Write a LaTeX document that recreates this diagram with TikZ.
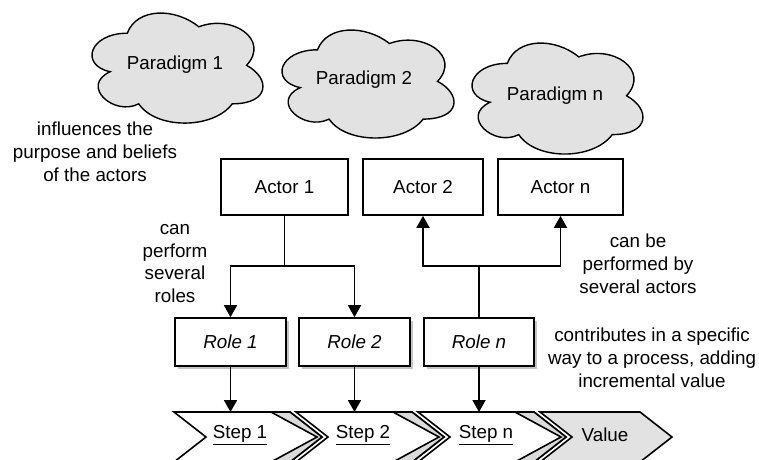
\documentclass[tikz,border=0pt]{standalone}
\usepackage{fontspec}
\setmainfont{Liberation Sans}
\usetikzlibrary{arrows.meta,shadows}
\definecolor{cloudgray}{HTML}{E2E2E2}
\definecolor{bevelgray}{HTML}{DADADA}
\definecolor{shadowgray}{HTML}{C4C4C4}
\newcommand\basefont{\fontsize{18.8}{22.8}\selectfont}
% cloud outline in a w x h frame whose top left corner is (x0,y0)
\newcommand\paradigmcloud[4]{%
  \begin{scope}[shift={(#1,#2)}, x=#3pt, y=-#4pt]
    \filldraw[cloudline] (0.25,0.25)
      .. controls (0.05,0.25) and (0,0.5) .. (0.16,0.55)
      .. controls (0,0.66) and (0.18,0.9) .. (0.31,0.8)
      .. controls (0.4,1) and (0.7,1) .. (0.8,0.8)
      .. controls (1,0.8) and (1,0.6) .. (0.875,0.5)
      .. controls (1,0.3) and (0.8,0.1) .. (0.625,0.2)
      .. controls (0.5,0.05) and (0.3,0.05) .. (0.25,0.25) -- cycle;
  \end{scope}}
\tikzset{
  txt/.style={font=\basefont, align=center, inner sep=0pt},
  cloudline/.style={line width=1.4pt, fill=cloudgray},
  actorbox/.style={draw, line width=1.7pt, fill=white, minimum height=56pt,
    inner sep=0pt, font=\basefont},
  rolebox/.style={draw, line width=1.7pt, fill=white, minimum width=111pt,
    minimum height=48pt, inner sep=0pt, font=\basefont\itshape,
    drop shadow={shadow xshift=3pt, shadow yshift=-3pt, fill=shadowgray, opacity=1}},
  link/.style={line width=1.8pt},
  arr/.style={link, -{Triangle[width=13pt,length=12pt]}},
  chevline/.style={line width=1.6pt, line join=miter},
  stepchev/.pic={
    \filldraw[chevline, fill=white] (0,0) -- (116,0) -- (148,25) -- (116,50)
      -- (0,50) -- (32,25) -- cycle;
    \filldraw[chevline, fill=bevelgray] (97,0) -- (116,0) -- (148,25) -- (116,50)
      -- (97,50) -- (143,25) -- cycle;
  }
}
\begin{document}
\begin{tikzpicture}[x=1pt,y=-1pt]
\useasboundingbox (0,0) rectangle (759,459);

% paradigms
\paradigmcloud{79.6}{1.1}{190.8}{128.4}
\paradigmcloud{269.5}{18.3}{192}{126}
\paradigmcloud{459.6}{31}{190.8}{129.5}
\node[txt] (p1) at (175,65) {Paradigm 1};
\node[txt] (p2) at (364,80) {Paradigm 2};
\node[txt] (pn) at (555,96) {Paradigm n};

% actors
\node[actorbox, minimum width=127pt] (a1) at (284.5,187) {Actor 1};
\node[actorbox, minimum width=120pt] (a2) at (423,187) {Actor 2};
\node[actorbox, minimum width=125pt] (an) at (560.5,187) {Actor n};

% roles
\node[rolebox] (r1) at (230.5,342) {Role 1};
\node[rolebox] (r2) at (354.5,342) {Role 2};
\node[rolebox, minimum width=110pt] (rn) at (479,342) {Role n};

% process steps
\begin{scope}
  \clip (0,0) rectangle (759,459);
  \pic at (174,412) {stepchev};
  \pic at (296,412) {stepchev};
  \pic at (418,412) {stepchev};
  \filldraw[chevline, fill=cloudgray] (540,412) -- (640,412) -- (672,437)
    -- (640,462) -- (540,462) -- (572,437) -- cycle;
\end{scope}
\node[txt] (s1) at (240,435) {\underline{Step 1}};
\node[txt] (s2) at (363,435) {\underline{Step 2}};
\node[txt] (sn) at (486,435) {\underline{Step n}};
\node[txt] (val) at (605,435) {Value};
\coordinate (t1) at (230.5,412);
\coordinate (t2) at (354.5,412);
\coordinate (tn) at (479,412);

% annotations
\node[txt] (n1) at (95,152) {influences the\\purpose and beliefs\\of the actors};
\node[txt] (n2) at (175,263.5) {can\\perform\\several\\roles};
\node[txt] (n3) at (638,264) {can be\\performed by\\several actors};
\node[txt] (n4) at (652,358) {contributes in a specific\\way to a process, adding\\incremental value};

% actor 1 performs several roles
\draw[link] (a1.south) -- (284.5,266) coordinate (j1);
\draw[arr] (j1) -| (r1.north);
\draw[arr] (j1) -| (r2.north);

% role n performed by several actors
\draw[link] (rn.north) -- (479,266) coordinate (j2);
\draw[arr] (j2) -| (a2.south);
\draw[arr] (j2) -| (an.south);

% roles feed the steps
\draw[arr] (r1.south) -- (t1);
\draw[arr] (r2.south) -- (t2);
\draw[arr] (rn.south) -- (tn);
\end{tikzpicture}
\end{document}
